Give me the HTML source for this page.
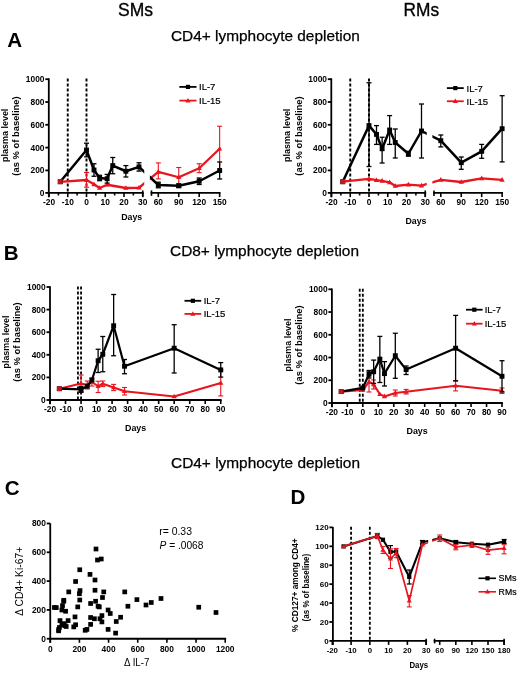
<!DOCTYPE html>
<html><head><meta charset="utf-8"><style>
html,body{margin:0;padding:0;background:#fff;}
body{width:520px;height:673px;overflow:hidden;}
svg{display:block;font-family:"Liberation Sans", sans-serif;will-change:transform;}
</style></head><body>
<svg width="520" height="673" viewBox="0 0 520 673">
<rect width="520" height="673" fill="#fff"/>
<text x="118" y="16.2" font-size="18.2" font-weight="normal" text-anchor="start" fill="#000" textLength="35" lengthAdjust="spacingAndGlyphs" stroke="#000" stroke-width="0.35">SMs</text>
<text x="403.5" y="16.2" font-size="18.2" font-weight="normal" text-anchor="start" fill="#000" textLength="35.6" lengthAdjust="spacingAndGlyphs" stroke="#000" stroke-width="0.35">RMs</text>
<text x="7.3" y="47.2" font-size="20.6" font-weight="bold" text-anchor="start" fill="#000">A</text>
<text x="3.8" y="260.2" font-size="20.6" font-weight="bold" text-anchor="start" fill="#000">B</text>
<text x="4.8" y="495" font-size="20.6" font-weight="bold" text-anchor="start" fill="#000">C</text>
<text x="290.6" y="503.7" font-size="20.6" font-weight="bold" text-anchor="start" fill="#000">D</text>
<text x="171" y="41.3" font-size="15.2" font-weight="normal" text-anchor="start" fill="#000" textLength="188.8" lengthAdjust="spacingAndGlyphs" stroke="#000" stroke-width="0.25">CD4+ lymphocyte depletion</text>
<text x="170" y="256.3" font-size="15.2" font-weight="normal" text-anchor="start" fill="#000" textLength="189" lengthAdjust="spacingAndGlyphs" stroke="#000" stroke-width="0.25">CD8+ lymphocyte depletion</text>
<text x="171" y="467.7" font-size="15.2" font-weight="normal" text-anchor="start" fill="#000" textLength="189" lengthAdjust="spacingAndGlyphs" stroke="#000" stroke-width="0.25">CD4+ lymphocyte depletion</text>
<clipPath id="clipA0"><rect x="38.8" y="60" width="105.45" height="140"/><rect x="149.89" y="60" width="79.75" height="140"/></clipPath>
<line x1="67.75" y1="78.5" x2="67.75" y2="193" stroke="#000" stroke-width="1.9" stroke-dasharray="3,2"/>
<line x1="86.5" y1="78.5" x2="86.5" y2="193" stroke="#000" stroke-width="1.9" stroke-dasharray="3,2"/>
<line x1="48.8" y1="78.3" x2="48.8" y2="192.9" stroke="#000" stroke-width="1.8"/>
<line x1="45.3" y1="170.4" x2="48.8" y2="170.4" stroke="#000" stroke-width="1.8"/>
<text x="44.5" y="173.42" font-size="8.4" font-weight="bold" text-anchor="end" fill="#000">200</text>
<line x1="45.3" y1="147.6" x2="48.8" y2="147.6" stroke="#000" stroke-width="1.8"/>
<text x="44.5" y="150.62" font-size="8.4" font-weight="bold" text-anchor="end" fill="#000">400</text>
<line x1="45.3" y1="124.8" x2="48.8" y2="124.8" stroke="#000" stroke-width="1.8"/>
<text x="44.5" y="127.82" font-size="8.4" font-weight="bold" text-anchor="end" fill="#000">600</text>
<line x1="45.3" y1="102" x2="48.8" y2="102" stroke="#000" stroke-width="1.8"/>
<text x="44.5" y="105.02" font-size="8.4" font-weight="bold" text-anchor="end" fill="#000">800</text>
<line x1="45.3" y1="79.2" x2="48.8" y2="79.2" stroke="#000" stroke-width="1.8"/>
<text x="44.5" y="82.22" font-size="8.4" font-weight="bold" text-anchor="end" fill="#000">1000</text>
<text x="44.5" y="195.92" font-size="8.4" font-weight="bold" text-anchor="end" fill="#000">0</text>
<line x1="45.3" y1="192.9" x2="48.8" y2="192.9" stroke="#000" stroke-width="1.8"/>
<line x1="48.8" y1="192.9" x2="48.8" y2="197.3" stroke="#000" stroke-width="1.8"/>
<line x1="47.9" y1="192.9" x2="143.65" y2="192.9" stroke="#000" stroke-width="1.8"/>
<line x1="150.59" y1="192.9" x2="220.54" y2="192.9" stroke="#000" stroke-width="1.8"/>
<line x1="49" y1="192.9" x2="49" y2="197.1" stroke="#000" stroke-width="1.6"/>
<text x="49" y="205.2" font-size="8.4" font-weight="bold" text-anchor="middle" fill="#000">-20</text>
<line x1="67.75" y1="192.9" x2="67.75" y2="197.1" stroke="#000" stroke-width="1.6"/>
<text x="67.75" y="205.2" font-size="8.4" font-weight="bold" text-anchor="middle" fill="#000">-10</text>
<line x1="86.5" y1="192.9" x2="86.5" y2="197.1" stroke="#000" stroke-width="1.6"/>
<text x="86.5" y="205.2" font-size="8.4" font-weight="bold" text-anchor="middle" fill="#000">0</text>
<line x1="105.25" y1="192.9" x2="105.25" y2="197.1" stroke="#000" stroke-width="1.6"/>
<text x="105.25" y="205.2" font-size="8.4" font-weight="bold" text-anchor="middle" fill="#000">10</text>
<line x1="124" y1="192.9" x2="124" y2="197.1" stroke="#000" stroke-width="1.6"/>
<text x="124" y="205.2" font-size="8.4" font-weight="bold" text-anchor="middle" fill="#000">20</text>
<line x1="142.75" y1="192.9" x2="142.75" y2="197.1" stroke="#000" stroke-width="1.6"/>
<text x="142.75" y="205.2" font-size="8.4" font-weight="bold" text-anchor="middle" fill="#000">30</text>
<line x1="58.38" y1="192.9" x2="58.38" y2="195.5" stroke="#000" stroke-width="1.6"/>
<line x1="77.12" y1="192.9" x2="77.12" y2="195.5" stroke="#000" stroke-width="1.6"/>
<line x1="95.88" y1="192.9" x2="95.88" y2="195.5" stroke="#000" stroke-width="1.6"/>
<line x1="114.62" y1="192.9" x2="114.62" y2="195.5" stroke="#000" stroke-width="1.6"/>
<line x1="133.38" y1="192.9" x2="133.38" y2="195.5" stroke="#000" stroke-width="1.6"/>
<line x1="142.75" y1="190.4" x2="142.75" y2="196.9" stroke="#000" stroke-width="1.6"/>
<line x1="151.49" y1="190.4" x2="151.49" y2="195.9" stroke="#000" stroke-width="1.6"/>
<line x1="158.3" y1="192.9" x2="158.3" y2="197.1" stroke="#000" stroke-width="1.6"/>
<text x="158.3" y="205.2" font-size="8.4" font-weight="bold" text-anchor="middle" fill="#000">60</text>
<line x1="178.75" y1="192.9" x2="178.75" y2="197.1" stroke="#000" stroke-width="1.6"/>
<text x="178.75" y="205.2" font-size="8.4" font-weight="bold" text-anchor="middle" fill="#000">90</text>
<line x1="199.19" y1="192.9" x2="199.19" y2="197.1" stroke="#000" stroke-width="1.6"/>
<text x="199.19" y="205.2" font-size="8.4" font-weight="bold" text-anchor="middle" fill="#000">120</text>
<line x1="219.64" y1="192.9" x2="219.64" y2="197.1" stroke="#000" stroke-width="1.6"/>
<text x="219.64" y="205.2" font-size="8.4" font-weight="bold" text-anchor="middle" fill="#000">150</text>
<text x="121.2" y="220.3" font-size="9.6" font-weight="bold" text-anchor="start" fill="#000" textLength="21" lengthAdjust="spacingAndGlyphs">Days</text>
<text transform="translate(7.5,135.3) rotate(-90)" x="0" y="0" font-size="8.6" font-weight="bold" text-anchor="middle" textLength="53.3" lengthAdjust="spacingAndGlyphs">plasma level</text>
<text transform="translate(19.2,136) rotate(-90)" x="0" y="0" font-size="8.6" font-weight="bold" text-anchor="middle" textLength="79.3" lengthAdjust="spacingAndGlyphs">(as % of baseline)</text>
<line x1="86.5" y1="172.5" x2="86.5" y2="187.2" stroke="#e8141e" stroke-width="1.1"/>
<line x1="84" y1="172.5" x2="89" y2="172.5" stroke="#e8141e" stroke-width="1.1"/>
<line x1="84" y1="187.2" x2="89" y2="187.2" stroke="#e8141e" stroke-width="1.1"/>
<line x1="158.3" y1="162.9" x2="158.3" y2="178.9" stroke="#e8141e" stroke-width="1.1"/>
<line x1="155.8" y1="162.9" x2="160.8" y2="162.9" stroke="#e8141e" stroke-width="1.1"/>
<line x1="155.8" y1="178.9" x2="160.8" y2="178.9" stroke="#e8141e" stroke-width="1.1"/>
<line x1="178.75" y1="167.5" x2="178.75" y2="187" stroke="#e8141e" stroke-width="1.1"/>
<line x1="176.25" y1="167.5" x2="181.25" y2="167.5" stroke="#e8141e" stroke-width="1.1"/>
<line x1="176.25" y1="187" x2="181.25" y2="187" stroke="#e8141e" stroke-width="1.1"/>
<line x1="199.19" y1="163.75" x2="199.19" y2="172.7" stroke="#e8141e" stroke-width="1.1"/>
<line x1="196.69" y1="163.75" x2="201.69" y2="163.75" stroke="#e8141e" stroke-width="1.1"/>
<line x1="196.69" y1="172.7" x2="201.69" y2="172.7" stroke="#e8141e" stroke-width="1.1"/>
<line x1="219.64" y1="126.25" x2="219.64" y2="171.25" stroke="#e8141e" stroke-width="1.1"/>
<line x1="217.14" y1="126.25" x2="222.14" y2="126.25" stroke="#e8141e" stroke-width="1.1"/>
<line x1="217.14" y1="171.25" x2="222.14" y2="171.25" stroke="#e8141e" stroke-width="1.1"/>
<polyline points="60.25,181.8 86.5,180 94,184.3 99.62,188 107.12,184.75 125.88,188 139,187.75 158.3,171.9 178.75,177.25 199.19,168.25 219.64,148.75" fill="none" stroke="#e8141e" stroke-width="2.3" stroke-linejoin="round" clip-path="url(#clipA0)"/>
<polygon points="60.25,178.99 57.65,183.67 62.85,183.67" fill="#e8141e"/>
<polygon points="86.5,177.19 83.9,181.87 89.1,181.87" fill="#e8141e"/>
<polygon points="94,181.49 91.4,186.17 96.6,186.17" fill="#e8141e"/>
<polygon points="99.62,185.19 97.03,189.87 102.22,189.87" fill="#e8141e"/>
<polygon points="107.12,181.94 104.53,186.62 109.72,186.62" fill="#e8141e"/>
<polygon points="125.88,185.19 123.28,189.87 128.47,189.87" fill="#e8141e"/>
<polygon points="139,184.94 136.4,189.62 141.6,189.62" fill="#e8141e"/>
<polygon points="158.3,169.09 155.7,173.77 160.9,173.77" fill="#e8141e"/>
<polygon points="178.75,174.44 176.15,179.12 181.34,179.12" fill="#e8141e"/>
<polygon points="199.19,165.44 196.59,170.12 201.79,170.12" fill="#e8141e"/>
<polygon points="219.64,145.94 217.04,150.62 222.24,150.62" fill="#e8141e"/>
<line x1="86.5" y1="143.2" x2="86.5" y2="156.8" stroke="#000" stroke-width="1.3"/>
<line x1="84" y1="143.2" x2="89" y2="143.2" stroke="#000" stroke-width="1.3"/>
<line x1="84" y1="156.8" x2="89" y2="156.8" stroke="#000" stroke-width="1.3"/>
<line x1="94" y1="163.75" x2="94" y2="176.25" stroke="#000" stroke-width="1.3"/>
<line x1="91.5" y1="163.75" x2="96.5" y2="163.75" stroke="#000" stroke-width="1.3"/>
<line x1="91.5" y1="176.25" x2="96.5" y2="176.25" stroke="#000" stroke-width="1.3"/>
<line x1="99.62" y1="175.3" x2="99.62" y2="180.7" stroke="#000" stroke-width="1.3"/>
<line x1="97.12" y1="175.3" x2="102.12" y2="175.3" stroke="#000" stroke-width="1.3"/>
<line x1="97.12" y1="180.7" x2="102.12" y2="180.7" stroke="#000" stroke-width="1.3"/>
<line x1="107.12" y1="174.4" x2="107.12" y2="183.1" stroke="#000" stroke-width="1.3"/>
<line x1="104.62" y1="174.4" x2="109.62" y2="174.4" stroke="#000" stroke-width="1.3"/>
<line x1="104.62" y1="183.1" x2="109.62" y2="183.1" stroke="#000" stroke-width="1.3"/>
<line x1="112.75" y1="157.5" x2="112.75" y2="173.75" stroke="#000" stroke-width="1.3"/>
<line x1="110.25" y1="157.5" x2="115.25" y2="157.5" stroke="#000" stroke-width="1.3"/>
<line x1="110.25" y1="173.75" x2="115.25" y2="173.75" stroke="#000" stroke-width="1.3"/>
<line x1="125.88" y1="165.6" x2="125.88" y2="177" stroke="#000" stroke-width="1.3"/>
<line x1="123.38" y1="165.6" x2="128.38" y2="165.6" stroke="#000" stroke-width="1.3"/>
<line x1="123.38" y1="177" x2="128.38" y2="177" stroke="#000" stroke-width="1.3"/>
<line x1="139" y1="162.75" x2="139" y2="171.1" stroke="#000" stroke-width="1.3"/>
<line x1="136.5" y1="162.75" x2="141.5" y2="162.75" stroke="#000" stroke-width="1.3"/>
<line x1="136.5" y1="171.1" x2="141.5" y2="171.1" stroke="#000" stroke-width="1.3"/>
<line x1="158.3" y1="182.2" x2="158.3" y2="187.8" stroke="#000" stroke-width="1.3"/>
<line x1="155.8" y1="182.2" x2="160.8" y2="182.2" stroke="#000" stroke-width="1.3"/>
<line x1="155.8" y1="187.8" x2="160.8" y2="187.8" stroke="#000" stroke-width="1.3"/>
<line x1="178.75" y1="184" x2="178.75" y2="187.5" stroke="#000" stroke-width="1.3"/>
<line x1="176.25" y1="184" x2="181.25" y2="184" stroke="#000" stroke-width="1.3"/>
<line x1="176.25" y1="187.5" x2="181.25" y2="187.5" stroke="#000" stroke-width="1.3"/>
<line x1="199.19" y1="178" x2="199.19" y2="184.5" stroke="#000" stroke-width="1.3"/>
<line x1="196.69" y1="178" x2="201.69" y2="178" stroke="#000" stroke-width="1.3"/>
<line x1="196.69" y1="184.5" x2="201.69" y2="184.5" stroke="#000" stroke-width="1.3"/>
<line x1="219.64" y1="162" x2="219.64" y2="179" stroke="#000" stroke-width="1.3"/>
<line x1="217.14" y1="162" x2="222.14" y2="162" stroke="#000" stroke-width="1.3"/>
<line x1="217.14" y1="179" x2="222.14" y2="179" stroke="#000" stroke-width="1.3"/>
<polyline points="60.25,181.8 86.5,150 94,170 99.62,178 107.12,178.75 112.75,165.6 125.88,171.25 139,166.9 158.3,185 178.75,185.75 199.19,181.25 219.64,170.5" fill="none" stroke="#000" stroke-width="2.5" stroke-linejoin="round" clip-path="url(#clipA0)"/>
<rect x="57.8" y="179.35" width="4.9" height="4.9" fill="#000"/>
<rect x="84.05" y="147.55" width="4.9" height="4.9" fill="#000"/>
<rect x="91.55" y="167.55" width="4.9" height="4.9" fill="#000"/>
<rect x="97.17" y="175.55" width="4.9" height="4.9" fill="#000"/>
<rect x="104.67" y="176.3" width="4.9" height="4.9" fill="#000"/>
<rect x="110.3" y="163.15" width="4.9" height="4.9" fill="#000"/>
<rect x="123.42" y="168.8" width="4.9" height="4.9" fill="#000"/>
<rect x="136.55" y="164.45" width="4.9" height="4.9" fill="#000"/>
<rect x="155.85" y="182.55" width="4.9" height="4.9" fill="#000"/>
<rect x="176.3" y="183.3" width="4.9" height="4.9" fill="#000"/>
<rect x="196.74" y="178.8" width="4.9" height="4.9" fill="#000"/>
<rect x="217.19" y="168.05" width="4.9" height="4.9" fill="#000"/>
<rect x="57.85" y="179.2" width="4.8" height="4.8" fill="#c8141c"/>
<line x1="179.4" y1="86.9" x2="196.5" y2="86.9" stroke="#000" stroke-width="1.8"/>
<rect x="185.85" y="84.8" width="4.2" height="4.2" fill="#000"/>
<text x="199" y="90.32" font-size="9.5" font-weight="normal" text-anchor="start" fill="#000" stroke="#000" stroke-width="0.2">IL-7</text>
<line x1="179.4" y1="100.6" x2="196.5" y2="100.6" stroke="#e8141e" stroke-width="1.8"/>
<polygon points="187.95,97.9 185.45,102.4 190.45,102.4" fill="#e8141e"/>
<text x="199" y="104.02" font-size="9.5" font-weight="normal" text-anchor="start" fill="#000" stroke="#000" stroke-width="0.2">IL-15</text>
<clipPath id="clipA282"><rect x="321.3" y="60" width="105.45" height="140"/><rect x="432.38" y="60" width="79.75" height="140"/></clipPath>
<line x1="350.25" y1="78.5" x2="350.25" y2="193" stroke="#000" stroke-width="1.9" stroke-dasharray="3,2"/>
<line x1="369" y1="78.5" x2="369" y2="193" stroke="#000" stroke-width="1.9" stroke-dasharray="3,2"/>
<line x1="331.3" y1="78.3" x2="331.3" y2="192.9" stroke="#000" stroke-width="1.8"/>
<line x1="327.8" y1="170.4" x2="331.3" y2="170.4" stroke="#000" stroke-width="1.8"/>
<text x="327" y="173.42" font-size="8.4" font-weight="bold" text-anchor="end" fill="#000">200</text>
<line x1="327.8" y1="147.6" x2="331.3" y2="147.6" stroke="#000" stroke-width="1.8"/>
<text x="327" y="150.62" font-size="8.4" font-weight="bold" text-anchor="end" fill="#000">400</text>
<line x1="327.8" y1="124.8" x2="331.3" y2="124.8" stroke="#000" stroke-width="1.8"/>
<text x="327" y="127.82" font-size="8.4" font-weight="bold" text-anchor="end" fill="#000">600</text>
<line x1="327.8" y1="102" x2="331.3" y2="102" stroke="#000" stroke-width="1.8"/>
<text x="327" y="105.02" font-size="8.4" font-weight="bold" text-anchor="end" fill="#000">800</text>
<line x1="327.8" y1="79.2" x2="331.3" y2="79.2" stroke="#000" stroke-width="1.8"/>
<text x="327" y="82.22" font-size="8.4" font-weight="bold" text-anchor="end" fill="#000">1000</text>
<text x="327" y="195.92" font-size="8.4" font-weight="bold" text-anchor="end" fill="#000">0</text>
<line x1="327.8" y1="192.9" x2="331.3" y2="192.9" stroke="#000" stroke-width="1.8"/>
<line x1="331.3" y1="192.9" x2="331.3" y2="197.3" stroke="#000" stroke-width="1.8"/>
<line x1="330.4" y1="192.9" x2="426.15" y2="192.9" stroke="#000" stroke-width="1.8"/>
<line x1="433.09" y1="192.9" x2="503.03" y2="192.9" stroke="#000" stroke-width="1.8"/>
<line x1="331.5" y1="192.9" x2="331.5" y2="197.1" stroke="#000" stroke-width="1.6"/>
<text x="331.5" y="205.2" font-size="8.4" font-weight="bold" text-anchor="middle" fill="#000">-20</text>
<line x1="350.25" y1="192.9" x2="350.25" y2="197.1" stroke="#000" stroke-width="1.6"/>
<text x="350.25" y="205.2" font-size="8.4" font-weight="bold" text-anchor="middle" fill="#000">-10</text>
<line x1="369" y1="192.9" x2="369" y2="197.1" stroke="#000" stroke-width="1.6"/>
<text x="369" y="205.2" font-size="8.4" font-weight="bold" text-anchor="middle" fill="#000">0</text>
<line x1="387.75" y1="192.9" x2="387.75" y2="197.1" stroke="#000" stroke-width="1.6"/>
<text x="387.75" y="205.2" font-size="8.4" font-weight="bold" text-anchor="middle" fill="#000">10</text>
<line x1="406.5" y1="192.9" x2="406.5" y2="197.1" stroke="#000" stroke-width="1.6"/>
<text x="406.5" y="205.2" font-size="8.4" font-weight="bold" text-anchor="middle" fill="#000">20</text>
<line x1="425.25" y1="192.9" x2="425.25" y2="197.1" stroke="#000" stroke-width="1.6"/>
<text x="425.25" y="205.2" font-size="8.4" font-weight="bold" text-anchor="middle" fill="#000">30</text>
<line x1="340.88" y1="192.9" x2="340.88" y2="195.5" stroke="#000" stroke-width="1.6"/>
<line x1="359.62" y1="192.9" x2="359.62" y2="195.5" stroke="#000" stroke-width="1.6"/>
<line x1="378.38" y1="192.9" x2="378.38" y2="195.5" stroke="#000" stroke-width="1.6"/>
<line x1="397.12" y1="192.9" x2="397.12" y2="195.5" stroke="#000" stroke-width="1.6"/>
<line x1="415.88" y1="192.9" x2="415.88" y2="195.5" stroke="#000" stroke-width="1.6"/>
<line x1="425.25" y1="190.4" x2="425.25" y2="196.9" stroke="#000" stroke-width="1.6"/>
<line x1="433.99" y1="190.4" x2="433.99" y2="195.9" stroke="#000" stroke-width="1.6"/>
<line x1="440.8" y1="192.9" x2="440.8" y2="197.1" stroke="#000" stroke-width="1.6"/>
<text x="440.8" y="205.2" font-size="8.4" font-weight="bold" text-anchor="middle" fill="#000">60</text>
<line x1="461.25" y1="192.9" x2="461.25" y2="197.1" stroke="#000" stroke-width="1.6"/>
<text x="461.25" y="205.2" font-size="8.4" font-weight="bold" text-anchor="middle" fill="#000">90</text>
<line x1="481.69" y1="192.9" x2="481.69" y2="197.1" stroke="#000" stroke-width="1.6"/>
<text x="481.69" y="205.2" font-size="8.4" font-weight="bold" text-anchor="middle" fill="#000">120</text>
<line x1="502.13" y1="192.9" x2="502.13" y2="197.1" stroke="#000" stroke-width="1.6"/>
<text x="502.13" y="205.2" font-size="8.4" font-weight="bold" text-anchor="middle" fill="#000">150</text>
<text x="405.5" y="223.9" font-size="9.6" font-weight="bold" text-anchor="start" fill="#000" textLength="21" lengthAdjust="spacingAndGlyphs">Days</text>
<text transform="translate(290,135.3) rotate(-90)" x="0" y="0" font-size="8.6" font-weight="bold" text-anchor="middle" textLength="53.3" lengthAdjust="spacingAndGlyphs">plasma level</text>
<text transform="translate(301.7,136) rotate(-90)" x="0" y="0" font-size="8.6" font-weight="bold" text-anchor="middle" textLength="79.3" lengthAdjust="spacingAndGlyphs">(as % of baseline)</text>
<polyline points="342.75,181.7 369,178.8 376.5,180.2 382.12,180.8 389.62,182.3 395.25,186 408.38,184.6 421.5,185.6 440.8,179.9 461.25,182 481.69,178.3 502.13,179.9" fill="none" stroke="#e8141e" stroke-width="2.3" stroke-linejoin="round" clip-path="url(#clipA282)"/>
<polygon points="342.75,178.89 340.15,183.57 345.35,183.57" fill="#e8141e"/>
<polygon points="369,175.99 366.4,180.67 371.6,180.67" fill="#e8141e"/>
<polygon points="376.5,177.39 373.9,182.07 379.1,182.07" fill="#e8141e"/>
<polygon points="382.12,177.99 379.52,182.67 384.73,182.67" fill="#e8141e"/>
<polygon points="389.62,179.49 387.02,184.17 392.23,184.17" fill="#e8141e"/>
<polygon points="395.25,183.19 392.65,187.87 397.85,187.87" fill="#e8141e"/>
<polygon points="408.38,181.79 405.77,186.47 410.98,186.47" fill="#e8141e"/>
<polygon points="421.5,182.79 418.9,187.47 424.1,187.47" fill="#e8141e"/>
<polygon points="440.8,177.09 438.2,181.77 443.4,181.77" fill="#e8141e"/>
<polygon points="461.25,179.19 458.64,183.87 463.85,183.87" fill="#e8141e"/>
<polygon points="481.69,175.49 479.09,180.17 484.29,180.17" fill="#e8141e"/>
<polygon points="502.13,177.09 499.53,181.77 504.74,181.77" fill="#e8141e"/>
<line x1="369" y1="82.75" x2="369" y2="166.5" stroke="#000" stroke-width="1.3"/>
<line x1="366.5" y1="82.75" x2="371.5" y2="82.75" stroke="#000" stroke-width="1.3"/>
<line x1="366.5" y1="166.5" x2="371.5" y2="166.5" stroke="#000" stroke-width="1.3"/>
<line x1="376.5" y1="125.6" x2="376.5" y2="144.4" stroke="#000" stroke-width="1.3"/>
<line x1="374" y1="125.6" x2="379" y2="125.6" stroke="#000" stroke-width="1.3"/>
<line x1="374" y1="144.4" x2="379" y2="144.4" stroke="#000" stroke-width="1.3"/>
<line x1="382.12" y1="137.25" x2="382.12" y2="163" stroke="#000" stroke-width="1.3"/>
<line x1="379.62" y1="137.25" x2="384.62" y2="137.25" stroke="#000" stroke-width="1.3"/>
<line x1="379.62" y1="163" x2="384.62" y2="163" stroke="#000" stroke-width="1.3"/>
<line x1="389.62" y1="115.6" x2="389.62" y2="144.4" stroke="#000" stroke-width="1.3"/>
<line x1="387.12" y1="115.6" x2="392.12" y2="115.6" stroke="#000" stroke-width="1.3"/>
<line x1="387.12" y1="144.4" x2="392.12" y2="144.4" stroke="#000" stroke-width="1.3"/>
<line x1="395.25" y1="129" x2="395.25" y2="158" stroke="#000" stroke-width="1.3"/>
<line x1="392.75" y1="129" x2="397.75" y2="129" stroke="#000" stroke-width="1.3"/>
<line x1="392.75" y1="158" x2="397.75" y2="158" stroke="#000" stroke-width="1.3"/>
<line x1="408.38" y1="151.3" x2="408.38" y2="156.2" stroke="#000" stroke-width="1.3"/>
<line x1="405.88" y1="151.3" x2="410.88" y2="151.3" stroke="#000" stroke-width="1.3"/>
<line x1="405.88" y1="156.2" x2="410.88" y2="156.2" stroke="#000" stroke-width="1.3"/>
<line x1="421.5" y1="104" x2="421.5" y2="158" stroke="#000" stroke-width="1.3"/>
<line x1="419" y1="104" x2="424" y2="104" stroke="#000" stroke-width="1.3"/>
<line x1="419" y1="158" x2="424" y2="158" stroke="#000" stroke-width="1.3"/>
<line x1="440.8" y1="135" x2="440.8" y2="146.9" stroke="#000" stroke-width="1.3"/>
<line x1="438.3" y1="135" x2="443.3" y2="135" stroke="#000" stroke-width="1.3"/>
<line x1="438.3" y1="146.9" x2="443.3" y2="146.9" stroke="#000" stroke-width="1.3"/>
<line x1="461.25" y1="157" x2="461.25" y2="169.3" stroke="#000" stroke-width="1.3"/>
<line x1="458.75" y1="157" x2="463.75" y2="157" stroke="#000" stroke-width="1.3"/>
<line x1="458.75" y1="169.3" x2="463.75" y2="169.3" stroke="#000" stroke-width="1.3"/>
<line x1="481.69" y1="144.4" x2="481.69" y2="158.3" stroke="#000" stroke-width="1.3"/>
<line x1="479.19" y1="144.4" x2="484.19" y2="144.4" stroke="#000" stroke-width="1.3"/>
<line x1="479.19" y1="158.3" x2="484.19" y2="158.3" stroke="#000" stroke-width="1.3"/>
<line x1="502.13" y1="95.7" x2="502.13" y2="161.9" stroke="#000" stroke-width="1.3"/>
<line x1="499.63" y1="95.7" x2="504.63" y2="95.7" stroke="#000" stroke-width="1.3"/>
<line x1="499.63" y1="161.9" x2="504.63" y2="161.9" stroke="#000" stroke-width="1.3"/>
<polyline points="342.75,181.8 369,125.6 376.5,134.4 382.12,148.75 389.62,130 395.25,142.5 408.38,153.75 421.5,131 440.8,140.7 461.25,162.7 481.69,151.3 502.13,128.7" fill="none" stroke="#000" stroke-width="2.5" stroke-linejoin="round" clip-path="url(#clipA282)"/>
<rect x="340.3" y="179.35" width="4.9" height="4.9" fill="#000"/>
<rect x="366.55" y="123.15" width="4.9" height="4.9" fill="#000"/>
<rect x="374.05" y="131.95" width="4.9" height="4.9" fill="#000"/>
<rect x="379.68" y="146.3" width="4.9" height="4.9" fill="#000"/>
<rect x="387.18" y="127.55" width="4.9" height="4.9" fill="#000"/>
<rect x="392.8" y="140.05" width="4.9" height="4.9" fill="#000"/>
<rect x="405.93" y="151.3" width="4.9" height="4.9" fill="#000"/>
<rect x="419.05" y="128.55" width="4.9" height="4.9" fill="#000"/>
<rect x="438.35" y="138.25" width="4.9" height="4.9" fill="#000"/>
<rect x="458.8" y="160.25" width="4.9" height="4.9" fill="#000"/>
<rect x="479.24" y="148.85" width="4.9" height="4.9" fill="#000"/>
<rect x="499.69" y="126.25" width="4.9" height="4.9" fill="#000"/>
<rect x="340.35" y="179.2" width="4.8" height="4.8" fill="#c8141c"/>
<line x1="446.9" y1="88.1" x2="463.75" y2="88.1" stroke="#000" stroke-width="1.8"/>
<rect x="453.22" y="86" width="4.2" height="4.2" fill="#000"/>
<text x="466.5" y="91.52" font-size="9.5" font-weight="normal" text-anchor="start" fill="#000" stroke="#000" stroke-width="0.2">IL-7</text>
<line x1="446.9" y1="101.25" x2="463.75" y2="101.25" stroke="#e8141e" stroke-width="1.8"/>
<polygon points="455.32,98.55 452.82,103.05 457.82,103.05" fill="#e8141e"/>
<text x="466.5" y="104.67" font-size="9.5" font-weight="normal" text-anchor="start" fill="#000" stroke="#000" stroke-width="0.2">IL-15</text>
<line x1="77.94" y1="286.5" x2="77.94" y2="400" stroke="#000" stroke-width="1.8" stroke-dasharray="3,2"/>
<line x1="81.05" y1="286.5" x2="81.05" y2="400" stroke="#000" stroke-width="1.8" stroke-dasharray="3,2"/>
<line x1="50" y1="286.3" x2="50" y2="400" stroke="#000" stroke-width="1.8"/>
<line x1="46.5" y1="400" x2="50" y2="400" stroke="#000" stroke-width="1.8"/>
<text x="45.7" y="403.02" font-size="8.4" font-weight="bold" text-anchor="end" fill="#000">0</text>
<line x1="46.5" y1="377.4" x2="50" y2="377.4" stroke="#000" stroke-width="1.8"/>
<text x="45.7" y="380.42" font-size="8.4" font-weight="bold" text-anchor="end" fill="#000">200</text>
<line x1="46.5" y1="354.8" x2="50" y2="354.8" stroke="#000" stroke-width="1.8"/>
<text x="45.7" y="357.82" font-size="8.4" font-weight="bold" text-anchor="end" fill="#000">400</text>
<line x1="46.5" y1="332.2" x2="50" y2="332.2" stroke="#000" stroke-width="1.8"/>
<text x="45.7" y="335.22" font-size="8.4" font-weight="bold" text-anchor="end" fill="#000">600</text>
<line x1="46.5" y1="309.6" x2="50" y2="309.6" stroke="#000" stroke-width="1.8"/>
<text x="45.7" y="312.62" font-size="8.4" font-weight="bold" text-anchor="end" fill="#000">800</text>
<line x1="46.5" y1="287" x2="50" y2="287" stroke="#000" stroke-width="1.8"/>
<text x="45.7" y="290.02" font-size="8.4" font-weight="bold" text-anchor="end" fill="#000">1000</text>
<line x1="50" y1="400" x2="50" y2="404.2" stroke="#000" stroke-width="1.8"/>
<line x1="49.1" y1="400" x2="221.65" y2="400" stroke="#000" stroke-width="1.8"/>
<line x1="50" y1="400" x2="50" y2="404" stroke="#000" stroke-width="1.6"/>
<text x="50" y="412.3" font-size="8.4" font-weight="bold" text-anchor="middle" fill="#000">-20</text>
<line x1="65.52" y1="400" x2="65.52" y2="404" stroke="#000" stroke-width="1.6"/>
<text x="65.52" y="412.3" font-size="8.4" font-weight="bold" text-anchor="middle" fill="#000">-10</text>
<line x1="81.05" y1="400" x2="81.05" y2="404" stroke="#000" stroke-width="1.6"/>
<text x="81.05" y="412.3" font-size="8.4" font-weight="bold" text-anchor="middle" fill="#000">0</text>
<line x1="96.57" y1="400" x2="96.57" y2="404" stroke="#000" stroke-width="1.6"/>
<text x="96.57" y="412.3" font-size="8.4" font-weight="bold" text-anchor="middle" fill="#000">10</text>
<line x1="112.09" y1="400" x2="112.09" y2="404" stroke="#000" stroke-width="1.6"/>
<text x="112.09" y="412.3" font-size="8.4" font-weight="bold" text-anchor="middle" fill="#000">20</text>
<line x1="127.61" y1="400" x2="127.61" y2="404" stroke="#000" stroke-width="1.6"/>
<text x="127.61" y="412.3" font-size="8.4" font-weight="bold" text-anchor="middle" fill="#000">30</text>
<line x1="143.14" y1="400" x2="143.14" y2="404" stroke="#000" stroke-width="1.6"/>
<text x="143.14" y="412.3" font-size="8.4" font-weight="bold" text-anchor="middle" fill="#000">40</text>
<line x1="158.66" y1="400" x2="158.66" y2="404" stroke="#000" stroke-width="1.6"/>
<text x="158.66" y="412.3" font-size="8.4" font-weight="bold" text-anchor="middle" fill="#000">50</text>
<line x1="174.18" y1="400" x2="174.18" y2="404" stroke="#000" stroke-width="1.6"/>
<text x="174.18" y="412.3" font-size="8.4" font-weight="bold" text-anchor="middle" fill="#000">60</text>
<line x1="189.7" y1="400" x2="189.7" y2="404" stroke="#000" stroke-width="1.6"/>
<text x="189.7" y="412.3" font-size="8.4" font-weight="bold" text-anchor="middle" fill="#000">70</text>
<line x1="205.23" y1="400" x2="205.23" y2="404" stroke="#000" stroke-width="1.6"/>
<text x="205.23" y="412.3" font-size="8.4" font-weight="bold" text-anchor="middle" fill="#000">80</text>
<line x1="220.75" y1="400" x2="220.75" y2="404" stroke="#000" stroke-width="1.6"/>
<text x="220.75" y="412.3" font-size="8.4" font-weight="bold" text-anchor="middle" fill="#000">90</text>
<text x="125" y="430.7" font-size="9.6" font-weight="bold" text-anchor="start" fill="#000" textLength="21.2" lengthAdjust="spacingAndGlyphs">Days</text>
<text transform="translate(8.6,342) rotate(-90)" x="0" y="0" font-size="8.6" font-weight="bold" text-anchor="middle" textLength="53" lengthAdjust="spacingAndGlyphs">plasma level</text>
<text transform="translate(20.2,342) rotate(-90)" x="0" y="0" font-size="8.6" font-weight="bold" text-anchor="middle" textLength="79.3" lengthAdjust="spacingAndGlyphs">(as % of baseline)</text>
<line x1="81.05" y1="375" x2="81.05" y2="392" stroke="#e8141e" stroke-width="1.1"/>
<line x1="78.55" y1="375" x2="83.55" y2="375" stroke="#e8141e" stroke-width="1.1"/>
<line x1="78.55" y1="392" x2="83.55" y2="392" stroke="#e8141e" stroke-width="1.1"/>
<line x1="87.25" y1="381" x2="87.25" y2="389" stroke="#e8141e" stroke-width="1.1"/>
<line x1="84.75" y1="381" x2="89.75" y2="381" stroke="#e8141e" stroke-width="1.1"/>
<line x1="84.75" y1="389" x2="89.75" y2="389" stroke="#e8141e" stroke-width="1.1"/>
<line x1="91.91" y1="378" x2="91.91" y2="386" stroke="#e8141e" stroke-width="1.1"/>
<line x1="89.41" y1="378" x2="94.41" y2="378" stroke="#e8141e" stroke-width="1.1"/>
<line x1="89.41" y1="386" x2="94.41" y2="386" stroke="#e8141e" stroke-width="1.1"/>
<line x1="98.12" y1="381.25" x2="98.12" y2="392.5" stroke="#e8141e" stroke-width="1.1"/>
<line x1="95.62" y1="381.25" x2="100.62" y2="381.25" stroke="#e8141e" stroke-width="1.1"/>
<line x1="95.62" y1="392.5" x2="100.62" y2="392.5" stroke="#e8141e" stroke-width="1.1"/>
<line x1="102.78" y1="381" x2="102.78" y2="386.5" stroke="#e8141e" stroke-width="1.1"/>
<line x1="100.28" y1="381" x2="105.28" y2="381" stroke="#e8141e" stroke-width="1.1"/>
<line x1="100.28" y1="386.5" x2="105.28" y2="386.5" stroke="#e8141e" stroke-width="1.1"/>
<line x1="113.64" y1="384.4" x2="113.64" y2="390.6" stroke="#e8141e" stroke-width="1.1"/>
<line x1="111.14" y1="384.4" x2="116.14" y2="384.4" stroke="#e8141e" stroke-width="1.1"/>
<line x1="111.14" y1="390.6" x2="116.14" y2="390.6" stroke="#e8141e" stroke-width="1.1"/>
<line x1="124.51" y1="387.5" x2="124.51" y2="395" stroke="#e8141e" stroke-width="1.1"/>
<line x1="122.01" y1="387.5" x2="127.01" y2="387.5" stroke="#e8141e" stroke-width="1.1"/>
<line x1="122.01" y1="395" x2="127.01" y2="395" stroke="#e8141e" stroke-width="1.1"/>
<line x1="220.75" y1="369.9" x2="220.75" y2="395.9" stroke="#e8141e" stroke-width="1.1"/>
<line x1="218.25" y1="369.9" x2="223.25" y2="369.9" stroke="#e8141e" stroke-width="1.1"/>
<line x1="218.25" y1="395.9" x2="223.25" y2="395.9" stroke="#e8141e" stroke-width="1.1"/>
<polyline points="59.31,388.7 81.05,383.5 87.25,385 91.91,382 98.12,386.25 102.78,383.75 113.64,387.5 124.51,391.25 174.18,396.5 220.75,383" fill="none" stroke="#e8141e" stroke-width="2.1" stroke-linejoin="round"/>
<polygon points="59.31,385.89 56.71,390.57 61.91,390.57" fill="#e8141e"/>
<polygon points="81.05,380.69 78.45,385.37 83.65,385.37" fill="#e8141e"/>
<polygon points="87.25,382.19 84.65,386.87 89.85,386.87" fill="#e8141e"/>
<polygon points="91.91,379.19 89.31,383.87 94.51,383.87" fill="#e8141e"/>
<polygon points="98.12,383.44 95.52,388.12 100.72,388.12" fill="#e8141e"/>
<polygon points="102.78,380.94 100.18,385.62 105.38,385.62" fill="#e8141e"/>
<polygon points="113.64,384.69 111.04,389.37 116.24,389.37" fill="#e8141e"/>
<polygon points="124.51,388.44 121.91,393.12 127.11,393.12" fill="#e8141e"/>
<polygon points="174.18,393.69 171.58,398.37 176.78,398.37" fill="#e8141e"/>
<polygon points="220.75,380.19 218.15,384.87 223.35,384.87" fill="#e8141e"/>
<line x1="81.05" y1="386.5" x2="81.05" y2="392.3" stroke="#000" stroke-width="1.3"/>
<line x1="78.55" y1="386.5" x2="83.55" y2="386.5" stroke="#000" stroke-width="1.3"/>
<line x1="78.55" y1="392.3" x2="83.55" y2="392.3" stroke="#000" stroke-width="1.3"/>
<line x1="98.12" y1="349.25" x2="98.12" y2="372.5" stroke="#000" stroke-width="1.3"/>
<line x1="95.62" y1="349.25" x2="100.62" y2="349.25" stroke="#000" stroke-width="1.3"/>
<line x1="95.62" y1="372.5" x2="100.62" y2="372.5" stroke="#000" stroke-width="1.3"/>
<line x1="102.78" y1="336.5" x2="102.78" y2="371.75" stroke="#000" stroke-width="1.3"/>
<line x1="100.28" y1="336.5" x2="105.28" y2="336.5" stroke="#000" stroke-width="1.3"/>
<line x1="100.28" y1="371.75" x2="105.28" y2="371.75" stroke="#000" stroke-width="1.3"/>
<line x1="113.64" y1="294.5" x2="113.64" y2="355.75" stroke="#000" stroke-width="1.3"/>
<line x1="111.14" y1="294.5" x2="116.14" y2="294.5" stroke="#000" stroke-width="1.3"/>
<line x1="111.14" y1="355.75" x2="116.14" y2="355.75" stroke="#000" stroke-width="1.3"/>
<line x1="124.51" y1="359.5" x2="124.51" y2="373.75" stroke="#000" stroke-width="1.3"/>
<line x1="122.01" y1="359.5" x2="127.01" y2="359.5" stroke="#000" stroke-width="1.3"/>
<line x1="122.01" y1="373.75" x2="127.01" y2="373.75" stroke="#000" stroke-width="1.3"/>
<line x1="174.18" y1="324.7" x2="174.18" y2="373" stroke="#000" stroke-width="1.3"/>
<line x1="171.68" y1="324.7" x2="176.68" y2="324.7" stroke="#000" stroke-width="1.3"/>
<line x1="171.68" y1="373" x2="176.68" y2="373" stroke="#000" stroke-width="1.3"/>
<line x1="220.75" y1="362.6" x2="220.75" y2="377.1" stroke="#000" stroke-width="1.3"/>
<line x1="218.25" y1="362.6" x2="223.25" y2="362.6" stroke="#000" stroke-width="1.3"/>
<line x1="218.25" y1="377.1" x2="223.25" y2="377.1" stroke="#000" stroke-width="1.3"/>
<polyline points="59.31,388.7 81.05,389.4 87.25,386.25 91.91,380 98.12,360.75 102.78,354.25 113.64,325.75 124.51,366.25 174.18,348.2 220.75,369.9" fill="none" stroke="#000" stroke-width="2.2" stroke-linejoin="round"/>
<rect x="56.86" y="386.25" width="4.9" height="4.9" fill="#000"/>
<rect x="78.6" y="386.95" width="4.9" height="4.9" fill="#000"/>
<rect x="84.8" y="383.8" width="4.9" height="4.9" fill="#000"/>
<rect x="89.46" y="377.55" width="4.9" height="4.9" fill="#000"/>
<rect x="95.67" y="358.3" width="4.9" height="4.9" fill="#000"/>
<rect x="100.33" y="351.8" width="4.9" height="4.9" fill="#000"/>
<rect x="111.19" y="323.3" width="4.9" height="4.9" fill="#000"/>
<rect x="122.06" y="363.8" width="4.9" height="4.9" fill="#000"/>
<rect x="171.73" y="345.75" width="4.9" height="4.9" fill="#000"/>
<rect x="218.3" y="367.45" width="4.9" height="4.9" fill="#000"/>
<rect x="56.91" y="386.3" width="4.8" height="4.8" fill="#c8141c"/>
<line x1="184.5" y1="300.8" x2="201.2" y2="300.8" stroke="#000" stroke-width="1.8"/>
<rect x="190.75" y="298.7" width="4.2" height="4.2" fill="#000"/>
<text x="203.7" y="304.22" font-size="9.5" font-weight="normal" text-anchor="start" fill="#000" stroke="#000" stroke-width="0.2">IL-7</text>
<line x1="184.5" y1="313.9" x2="201.2" y2="313.9" stroke="#e8141e" stroke-width="1.8"/>
<polygon points="192.85,311.2 190.35,315.7 195.35,315.7" fill="#e8141e"/>
<text x="203.7" y="317.32" font-size="9.5" font-weight="normal" text-anchor="start" fill="#000" stroke="#000" stroke-width="0.2">IL-15</text>
<line x1="359.73" y1="288.8" x2="359.73" y2="403" stroke="#000" stroke-width="1.8" stroke-dasharray="3,2"/>
<line x1="362.83" y1="288.8" x2="362.83" y2="403" stroke="#000" stroke-width="1.8" stroke-dasharray="3,2"/>
<line x1="331.9" y1="288.6" x2="331.9" y2="403" stroke="#000" stroke-width="1.8"/>
<line x1="328.4" y1="403" x2="331.9" y2="403" stroke="#000" stroke-width="1.8"/>
<text x="327.6" y="406.02" font-size="8.4" font-weight="bold" text-anchor="end" fill="#000">0</text>
<line x1="328.4" y1="380.26" x2="331.9" y2="380.26" stroke="#000" stroke-width="1.8"/>
<text x="327.6" y="383.28" font-size="8.4" font-weight="bold" text-anchor="end" fill="#000">200</text>
<line x1="328.4" y1="357.52" x2="331.9" y2="357.52" stroke="#000" stroke-width="1.8"/>
<text x="327.6" y="360.54" font-size="8.4" font-weight="bold" text-anchor="end" fill="#000">400</text>
<line x1="328.4" y1="334.78" x2="331.9" y2="334.78" stroke="#000" stroke-width="1.8"/>
<text x="327.6" y="337.8" font-size="8.4" font-weight="bold" text-anchor="end" fill="#000">600</text>
<line x1="328.4" y1="312.04" x2="331.9" y2="312.04" stroke="#000" stroke-width="1.8"/>
<text x="327.6" y="315.06" font-size="8.4" font-weight="bold" text-anchor="end" fill="#000">800</text>
<line x1="328.4" y1="289.3" x2="331.9" y2="289.3" stroke="#000" stroke-width="1.8"/>
<text x="327.6" y="292.32" font-size="8.4" font-weight="bold" text-anchor="end" fill="#000">1000</text>
<line x1="331.9" y1="403" x2="331.9" y2="407.2" stroke="#000" stroke-width="1.8"/>
<line x1="331" y1="403" x2="502.9" y2="403" stroke="#000" stroke-width="1.8"/>
<line x1="331.9" y1="403" x2="331.9" y2="407" stroke="#000" stroke-width="1.6"/>
<text x="331.9" y="415.3" font-size="8.4" font-weight="bold" text-anchor="middle" fill="#000">-20</text>
<line x1="347.36" y1="403" x2="347.36" y2="407" stroke="#000" stroke-width="1.6"/>
<text x="347.36" y="415.3" font-size="8.4" font-weight="bold" text-anchor="middle" fill="#000">-10</text>
<line x1="362.83" y1="403" x2="362.83" y2="407" stroke="#000" stroke-width="1.6"/>
<text x="362.83" y="415.3" font-size="8.4" font-weight="bold" text-anchor="middle" fill="#000">0</text>
<line x1="378.29" y1="403" x2="378.29" y2="407" stroke="#000" stroke-width="1.6"/>
<text x="378.29" y="415.3" font-size="8.4" font-weight="bold" text-anchor="middle" fill="#000">10</text>
<line x1="393.75" y1="403" x2="393.75" y2="407" stroke="#000" stroke-width="1.6"/>
<text x="393.75" y="415.3" font-size="8.4" font-weight="bold" text-anchor="middle" fill="#000">20</text>
<line x1="409.22" y1="403" x2="409.22" y2="407" stroke="#000" stroke-width="1.6"/>
<text x="409.22" y="415.3" font-size="8.4" font-weight="bold" text-anchor="middle" fill="#000">30</text>
<line x1="424.68" y1="403" x2="424.68" y2="407" stroke="#000" stroke-width="1.6"/>
<text x="424.68" y="415.3" font-size="8.4" font-weight="bold" text-anchor="middle" fill="#000">40</text>
<line x1="440.15" y1="403" x2="440.15" y2="407" stroke="#000" stroke-width="1.6"/>
<text x="440.15" y="415.3" font-size="8.4" font-weight="bold" text-anchor="middle" fill="#000">50</text>
<line x1="455.61" y1="403" x2="455.61" y2="407" stroke="#000" stroke-width="1.6"/>
<text x="455.61" y="415.3" font-size="8.4" font-weight="bold" text-anchor="middle" fill="#000">60</text>
<line x1="471.07" y1="403" x2="471.07" y2="407" stroke="#000" stroke-width="1.6"/>
<text x="471.07" y="415.3" font-size="8.4" font-weight="bold" text-anchor="middle" fill="#000">70</text>
<line x1="486.54" y1="403" x2="486.54" y2="407" stroke="#000" stroke-width="1.6"/>
<text x="486.54" y="415.3" font-size="8.4" font-weight="bold" text-anchor="middle" fill="#000">80</text>
<line x1="502" y1="403" x2="502" y2="407" stroke="#000" stroke-width="1.6"/>
<text x="502" y="415.3" font-size="8.4" font-weight="bold" text-anchor="middle" fill="#000">90</text>
<text x="406.5" y="434" font-size="9.6" font-weight="bold" text-anchor="start" fill="#000" textLength="21.2" lengthAdjust="spacingAndGlyphs">Days</text>
<text transform="translate(290.5,345) rotate(-90)" x="0" y="0" font-size="8.6" font-weight="bold" text-anchor="middle" textLength="53" lengthAdjust="spacingAndGlyphs">plasma level</text>
<text transform="translate(302.1,345) rotate(-90)" x="0" y="0" font-size="8.6" font-weight="bold" text-anchor="middle" textLength="79.3" lengthAdjust="spacingAndGlyphs">(as % of baseline)</text>
<line x1="369.01" y1="371.5" x2="369.01" y2="392" stroke="#e8141e" stroke-width="1.1"/>
<line x1="366.51" y1="371.5" x2="371.51" y2="371.5" stroke="#e8141e" stroke-width="1.1"/>
<line x1="366.51" y1="392" x2="371.51" y2="392" stroke="#e8141e" stroke-width="1.1"/>
<line x1="373.65" y1="380" x2="373.65" y2="389" stroke="#e8141e" stroke-width="1.1"/>
<line x1="371.15" y1="380" x2="376.15" y2="380" stroke="#e8141e" stroke-width="1.1"/>
<line x1="371.15" y1="389" x2="376.15" y2="389" stroke="#e8141e" stroke-width="1.1"/>
<line x1="395.3" y1="390" x2="395.3" y2="396" stroke="#e8141e" stroke-width="1.1"/>
<line x1="392.8" y1="390" x2="397.8" y2="390" stroke="#e8141e" stroke-width="1.1"/>
<line x1="392.8" y1="396" x2="397.8" y2="396" stroke="#e8141e" stroke-width="1.1"/>
<line x1="406.13" y1="389.4" x2="406.13" y2="394" stroke="#e8141e" stroke-width="1.1"/>
<line x1="403.63" y1="389.4" x2="408.63" y2="389.4" stroke="#e8141e" stroke-width="1.1"/>
<line x1="403.63" y1="394" x2="408.63" y2="394" stroke="#e8141e" stroke-width="1.1"/>
<line x1="455.61" y1="380.5" x2="455.61" y2="390.9" stroke="#e8141e" stroke-width="1.1"/>
<line x1="453.11" y1="380.5" x2="458.11" y2="380.5" stroke="#e8141e" stroke-width="1.1"/>
<line x1="453.11" y1="390.9" x2="458.11" y2="390.9" stroke="#e8141e" stroke-width="1.1"/>
<line x1="502" y1="388" x2="502" y2="393.5" stroke="#e8141e" stroke-width="1.1"/>
<line x1="499.5" y1="388" x2="504.5" y2="388" stroke="#e8141e" stroke-width="1.1"/>
<line x1="499.5" y1="393.5" x2="504.5" y2="393.5" stroke="#e8141e" stroke-width="1.1"/>
<polyline points="341.18,391.6 362.83,390 369.01,381.8 373.65,384.4 379.84,394.2 384.48,396.4 395.3,393 406.13,391.7 455.61,385.7 502,390.7" fill="none" stroke="#e8141e" stroke-width="2.1" stroke-linejoin="round"/>
<polygon points="341.18,388.79 338.58,393.47 343.78,393.47" fill="#e8141e"/>
<polygon points="362.83,387.19 360.23,391.87 365.43,391.87" fill="#e8141e"/>
<polygon points="369.01,378.99 366.41,383.67 371.61,383.67" fill="#e8141e"/>
<polygon points="373.65,381.59 371.05,386.27 376.25,386.27" fill="#e8141e"/>
<polygon points="379.84,391.39 377.24,396.07 382.44,396.07" fill="#e8141e"/>
<polygon points="384.48,393.59 381.88,398.27 387.08,398.27" fill="#e8141e"/>
<polygon points="395.3,390.19 392.7,394.87 397.9,394.87" fill="#e8141e"/>
<polygon points="406.13,388.89 403.53,393.57 408.73,393.57" fill="#e8141e"/>
<polygon points="455.61,382.89 453.01,387.57 458.21,387.57" fill="#e8141e"/>
<polygon points="502,387.89 499.4,392.57 504.6,392.57" fill="#e8141e"/>
<line x1="369.01" y1="370.5" x2="369.01" y2="378" stroke="#000" stroke-width="1.3"/>
<line x1="366.51" y1="370.5" x2="371.51" y2="370.5" stroke="#000" stroke-width="1.3"/>
<line x1="366.51" y1="378" x2="371.51" y2="378" stroke="#000" stroke-width="1.3"/>
<line x1="373.65" y1="360.1" x2="373.65" y2="383.4" stroke="#000" stroke-width="1.3"/>
<line x1="371.15" y1="360.1" x2="376.15" y2="360.1" stroke="#000" stroke-width="1.3"/>
<line x1="371.15" y1="383.4" x2="376.15" y2="383.4" stroke="#000" stroke-width="1.3"/>
<line x1="379.84" y1="336.4" x2="379.84" y2="382.5" stroke="#000" stroke-width="1.3"/>
<line x1="377.34" y1="336.4" x2="382.34" y2="336.4" stroke="#000" stroke-width="1.3"/>
<line x1="377.34" y1="382.5" x2="382.34" y2="382.5" stroke="#000" stroke-width="1.3"/>
<line x1="384.48" y1="361.65" x2="384.48" y2="386" stroke="#000" stroke-width="1.3"/>
<line x1="381.98" y1="361.65" x2="386.98" y2="361.65" stroke="#000" stroke-width="1.3"/>
<line x1="381.98" y1="386" x2="386.98" y2="386" stroke="#000" stroke-width="1.3"/>
<line x1="395.3" y1="333.25" x2="395.3" y2="378.3" stroke="#000" stroke-width="1.3"/>
<line x1="392.8" y1="333.25" x2="397.8" y2="333.25" stroke="#000" stroke-width="1.3"/>
<line x1="392.8" y1="378.3" x2="397.8" y2="378.3" stroke="#000" stroke-width="1.3"/>
<line x1="406.13" y1="366" x2="406.13" y2="374.5" stroke="#000" stroke-width="1.3"/>
<line x1="403.63" y1="366" x2="408.63" y2="366" stroke="#000" stroke-width="1.3"/>
<line x1="403.63" y1="374.5" x2="408.63" y2="374.5" stroke="#000" stroke-width="1.3"/>
<line x1="455.61" y1="315.4" x2="455.61" y2="381" stroke="#000" stroke-width="1.3"/>
<line x1="453.11" y1="315.4" x2="458.11" y2="315.4" stroke="#000" stroke-width="1.3"/>
<line x1="453.11" y1="381" x2="458.11" y2="381" stroke="#000" stroke-width="1.3"/>
<line x1="502" y1="360.7" x2="502" y2="391.9" stroke="#000" stroke-width="1.3"/>
<line x1="499.5" y1="360.7" x2="504.5" y2="360.7" stroke="#000" stroke-width="1.3"/>
<line x1="499.5" y1="391.9" x2="504.5" y2="391.9" stroke="#000" stroke-width="1.3"/>
<polyline points="341.18,391.6 362.83,387.9 369.01,374.3 373.65,371.75 379.84,359.1 384.48,373.6 395.3,355.7 406.13,369.6 455.61,348.2 502,376.3" fill="none" stroke="#000" stroke-width="2.2" stroke-linejoin="round"/>
<rect x="338.73" y="389.15" width="4.9" height="4.9" fill="#000"/>
<rect x="360.38" y="385.45" width="4.9" height="4.9" fill="#000"/>
<rect x="366.56" y="371.85" width="4.9" height="4.9" fill="#000"/>
<rect x="371.2" y="369.3" width="4.9" height="4.9" fill="#000"/>
<rect x="377.39" y="356.65" width="4.9" height="4.9" fill="#000"/>
<rect x="382.03" y="371.15" width="4.9" height="4.9" fill="#000"/>
<rect x="392.85" y="353.25" width="4.9" height="4.9" fill="#000"/>
<rect x="403.68" y="367.15" width="4.9" height="4.9" fill="#000"/>
<rect x="453.16" y="345.75" width="4.9" height="4.9" fill="#000"/>
<rect x="499.55" y="373.85" width="4.9" height="4.9" fill="#000"/>
<rect x="338.78" y="389.2" width="4.8" height="4.8" fill="#c8141c"/>
<line x1="466" y1="309.7" x2="482.6" y2="309.7" stroke="#000" stroke-width="1.8"/>
<rect x="472.2" y="307.6" width="4.2" height="4.2" fill="#000"/>
<text x="484.7" y="313.12" font-size="9.5" font-weight="normal" text-anchor="start" fill="#000" stroke="#000" stroke-width="0.2">IL-7</text>
<line x1="466" y1="323.7" x2="482.6" y2="323.7" stroke="#e8141e" stroke-width="1.8"/>
<polygon points="474.3,321 471.8,325.5 476.8,325.5" fill="#e8141e"/>
<text x="484.7" y="327.12" font-size="9.5" font-weight="normal" text-anchor="start" fill="#000" stroke="#000" stroke-width="0.2">IL-15</text>
<line x1="50.25" y1="523.3" x2="50.25" y2="638.75" stroke="#000" stroke-width="1.8"/>
<line x1="46.75" y1="638.75" x2="50.25" y2="638.75" stroke="#000" stroke-width="1.8"/>
<text x="45.95" y="641.77" font-size="8.4" font-weight="bold" text-anchor="end" fill="#000">0</text>
<line x1="46.75" y1="609.93" x2="50.25" y2="609.93" stroke="#000" stroke-width="1.8"/>
<text x="45.95" y="612.95" font-size="8.4" font-weight="bold" text-anchor="end" fill="#000">200</text>
<line x1="46.75" y1="581.11" x2="50.25" y2="581.11" stroke="#000" stroke-width="1.8"/>
<text x="45.95" y="584.13" font-size="8.4" font-weight="bold" text-anchor="end" fill="#000">400</text>
<line x1="46.75" y1="552.29" x2="50.25" y2="552.29" stroke="#000" stroke-width="1.8"/>
<text x="45.95" y="555.31" font-size="8.4" font-weight="bold" text-anchor="end" fill="#000">600</text>
<line x1="46.75" y1="523.47" x2="50.25" y2="523.47" stroke="#000" stroke-width="1.8"/>
<text x="45.95" y="526.49" font-size="8.4" font-weight="bold" text-anchor="end" fill="#000">800</text>
<line x1="50.25" y1="638.75" x2="50.25" y2="642.75" stroke="#000" stroke-width="1.8"/>
<line x1="49.35" y1="638.75" x2="226.11" y2="638.75" stroke="#000" stroke-width="1.8"/>
<line x1="50.25" y1="638.75" x2="50.25" y2="642.75" stroke="#000" stroke-width="1.6"/>
<text x="50.25" y="651.5" font-size="8.4" font-weight="bold" text-anchor="middle" fill="#000">0</text>
<line x1="79.41" y1="638.75" x2="79.41" y2="642.75" stroke="#000" stroke-width="1.6"/>
<text x="79.41" y="651.5" font-size="8.4" font-weight="bold" text-anchor="middle" fill="#000">200</text>
<line x1="108.57" y1="638.75" x2="108.57" y2="642.75" stroke="#000" stroke-width="1.6"/>
<text x="108.57" y="651.5" font-size="8.4" font-weight="bold" text-anchor="middle" fill="#000">400</text>
<line x1="137.73" y1="638.75" x2="137.73" y2="642.75" stroke="#000" stroke-width="1.6"/>
<text x="137.73" y="651.5" font-size="8.4" font-weight="bold" text-anchor="middle" fill="#000">600</text>
<line x1="166.89" y1="638.75" x2="166.89" y2="642.75" stroke="#000" stroke-width="1.6"/>
<text x="166.89" y="651.5" font-size="8.4" font-weight="bold" text-anchor="middle" fill="#000">800</text>
<line x1="196.05" y1="638.75" x2="196.05" y2="642.75" stroke="#000" stroke-width="1.6"/>
<text x="196.05" y="651.5" font-size="8.4" font-weight="bold" text-anchor="middle" fill="#000">1000</text>
<line x1="225.21" y1="638.75" x2="225.21" y2="642.75" stroke="#000" stroke-width="1.6"/>
<text x="225.21" y="651.5" font-size="8.4" font-weight="bold" text-anchor="middle" fill="#000">1200</text>
<rect x="66.4" y="589.55" width="4.7" height="4.7" fill="#000"/>
<rect x="77.65" y="588.25" width="4.7" height="4.7" fill="#000"/>
<rect x="77.05" y="591.4" width="4.7" height="4.7" fill="#000"/>
<rect x="92.65" y="587.9" width="4.7" height="4.7" fill="#000"/>
<rect x="101.4" y="589.55" width="4.7" height="4.7" fill="#000"/>
<rect x="100.15" y="595.15" width="4.7" height="4.7" fill="#000"/>
<rect x="77.4" y="597.65" width="4.7" height="4.7" fill="#000"/>
<rect x="61.4" y="598.9" width="4.7" height="4.7" fill="#000"/>
<rect x="88.25" y="601.15" width="4.7" height="4.7" fill="#000"/>
<rect x="93.25" y="598.9" width="4.7" height="4.7" fill="#000"/>
<rect x="95.75" y="603.9" width="4.7" height="4.7" fill="#000"/>
<rect x="52.05" y="605.15" width="4.7" height="4.7" fill="#000"/>
<rect x="75.4" y="604.55" width="4.7" height="4.7" fill="#000"/>
<rect x="60.15" y="603.25" width="4.7" height="4.7" fill="#000"/>
<rect x="59.55" y="607.65" width="4.7" height="4.7" fill="#000"/>
<rect x="63.25" y="608.9" width="4.7" height="4.7" fill="#000"/>
<rect x="105.75" y="607.65" width="4.7" height="4.7" fill="#000"/>
<rect x="72.65" y="614.55" width="4.7" height="4.7" fill="#000"/>
<rect x="88.25" y="615.15" width="4.7" height="4.7" fill="#000"/>
<rect x="92.05" y="616.4" width="4.7" height="4.7" fill="#000"/>
<rect x="99.55" y="613.25" width="4.7" height="4.7" fill="#000"/>
<rect x="97.65" y="616.4" width="4.7" height="4.7" fill="#000"/>
<rect x="99.55" y="619.55" width="4.7" height="4.7" fill="#000"/>
<rect x="57.65" y="618.25" width="4.7" height="4.7" fill="#000"/>
<rect x="65.75" y="618.25" width="4.7" height="4.7" fill="#000"/>
<rect x="59.55" y="622.65" width="4.7" height="4.7" fill="#000"/>
<rect x="62.65" y="623.25" width="4.7" height="4.7" fill="#000"/>
<rect x="73.25" y="622.4" width="4.7" height="4.7" fill="#000"/>
<rect x="71.4" y="624.55" width="4.7" height="4.7" fill="#000"/>
<rect x="88.25" y="622.05" width="4.7" height="4.7" fill="#000"/>
<rect x="56.4" y="627.05" width="4.7" height="4.7" fill="#000"/>
<rect x="57.05" y="625.15" width="4.7" height="4.7" fill="#000"/>
<rect x="84.55" y="627.05" width="4.7" height="4.7" fill="#000"/>
<rect x="105.75" y="627.05" width="4.7" height="4.7" fill="#000"/>
<rect x="93.65" y="546.65" width="4.7" height="4.7" fill="#000"/>
<rect x="95.15" y="557.65" width="4.7" height="4.7" fill="#000"/>
<rect x="98.9" y="556.65" width="4.7" height="4.7" fill="#000"/>
<rect x="77.4" y="567.4" width="4.7" height="4.7" fill="#000"/>
<rect x="87.65" y="572.05" width="4.7" height="4.7" fill="#000"/>
<rect x="73.25" y="579.15" width="4.7" height="4.7" fill="#000"/>
<rect x="92.65" y="577.65" width="4.7" height="4.7" fill="#000"/>
<rect x="122.4" y="589.55" width="4.7" height="4.7" fill="#000"/>
<rect x="134.55" y="597.25" width="4.7" height="4.7" fill="#000"/>
<rect x="125.55" y="603.9" width="4.7" height="4.7" fill="#000"/>
<rect x="143.65" y="602.65" width="4.7" height="4.7" fill="#000"/>
<rect x="148.9" y="600.15" width="4.7" height="4.7" fill="#000"/>
<rect x="158.65" y="596.15" width="4.7" height="4.7" fill="#000"/>
<rect x="107.9" y="611.15" width="4.7" height="4.7" fill="#000"/>
<rect x="118.25" y="614.9" width="4.7" height="4.7" fill="#000"/>
<rect x="113.9" y="619.15" width="4.7" height="4.7" fill="#000"/>
<rect x="113.25" y="630.75" width="4.7" height="4.7" fill="#000"/>
<rect x="196.4" y="604.9" width="4.7" height="4.7" fill="#000"/>
<rect x="213.65" y="610.15" width="4.7" height="4.7" fill="#000"/>
<rect x="53.95" y="605.25" width="4.7" height="4.7" fill="#000"/>
<rect x="56.25" y="628.45" width="4.7" height="4.7" fill="#000"/>
<rect x="61.25" y="621.25" width="4.7" height="4.7" fill="#000"/>
<rect x="63.85" y="624.15" width="4.7" height="4.7" fill="#000"/>
<rect x="61.45" y="597.95" width="4.7" height="4.7" fill="#000"/>
<rect x="96.95" y="604.55" width="4.7" height="4.7" fill="#000"/>
<rect x="82.85" y="627.95" width="4.7" height="4.7" fill="#000"/>
<text x="159.2" y="535.4" font-size="10.2" font-weight="normal" text-anchor="start" fill="#000" textLength="32.8" lengthAdjust="spacingAndGlyphs">r= 0.33</text>
<text x="159.5" y="548.5" font-size="10.2" textLength="44" lengthAdjust="spacingAndGlyphs"><tspan font-style="italic">P</tspan> = .0068</text>
<text transform="translate(23.2,581.2) rotate(-90)" x="0" y="0" font-size="10.4" font-weight="normal" text-anchor="middle" textLength="69" lengthAdjust="spacingAndGlyphs">&#916; CD4+ Ki-67+</text>
<text x="124" y="665.6" font-size="10" font-weight="normal" text-anchor="start" fill="#000" textLength="25.4" lengthAdjust="spacingAndGlyphs">&#916; IL-7</text>
<clipPath id="clipD"><rect x="320" y="500" width="108.15" height="150"/><rect x="432.26" y="500" width="100" height="150"/></clipPath>
<line x1="351.07" y1="526.7" x2="351.07" y2="640.9" stroke="#000" stroke-width="1.8" stroke-dasharray="3,2"/>
<line x1="369.84" y1="526.7" x2="369.84" y2="640.9" stroke="#000" stroke-width="1.8" stroke-dasharray="3,2"/>
<line x1="332.9" y1="527" x2="332.9" y2="640.9" stroke="#000" stroke-width="1.8"/>
<line x1="329.4" y1="640.9" x2="332.9" y2="640.9" stroke="#000" stroke-width="1.8"/>
<text x="328.6" y="643.78" font-size="8" font-weight="bold" text-anchor="end" fill="#000">0</text>
<line x1="329.4" y1="621.98" x2="332.9" y2="621.98" stroke="#000" stroke-width="1.8"/>
<text x="328.6" y="624.86" font-size="8" font-weight="bold" text-anchor="end" fill="#000">20</text>
<line x1="329.4" y1="603.07" x2="332.9" y2="603.07" stroke="#000" stroke-width="1.8"/>
<text x="328.6" y="605.95" font-size="8" font-weight="bold" text-anchor="end" fill="#000">40</text>
<line x1="329.4" y1="584.15" x2="332.9" y2="584.15" stroke="#000" stroke-width="1.8"/>
<text x="328.6" y="587.03" font-size="8" font-weight="bold" text-anchor="end" fill="#000">60</text>
<line x1="329.4" y1="565.24" x2="332.9" y2="565.24" stroke="#000" stroke-width="1.8"/>
<text x="328.6" y="568.12" font-size="8" font-weight="bold" text-anchor="end" fill="#000">80</text>
<line x1="329.4" y1="546.32" x2="332.9" y2="546.32" stroke="#000" stroke-width="1.8"/>
<text x="328.6" y="549.2" font-size="8" font-weight="bold" text-anchor="end" fill="#000">100</text>
<line x1="329.4" y1="527.4" x2="332.9" y2="527.4" stroke="#000" stroke-width="1.8"/>
<text x="328.6" y="530.28" font-size="8" font-weight="bold" text-anchor="end" fill="#000">120</text>
<line x1="332.9" y1="640.9" x2="332.9" y2="644.9" stroke="#000" stroke-width="1.8"/>
<line x1="332" y1="640.9" x2="427.05" y2="640.9" stroke="#000" stroke-width="1.8"/>
<line x1="433.7" y1="640.9" x2="505" y2="640.9" stroke="#000" stroke-width="1.8"/>
<line x1="426.15" y1="638.7" x2="426.15" y2="644.9" stroke="#000" stroke-width="1.6"/>
<line x1="434.6" y1="638.7" x2="434.6" y2="643.4" stroke="#000" stroke-width="1.6"/>
<line x1="332.3" y1="640.9" x2="332.3" y2="644.9" stroke="#000" stroke-width="1.6"/>
<text x="332.3" y="653.3" font-size="7.8" font-weight="bold" text-anchor="middle" fill="#000">-20</text>
<line x1="351.07" y1="640.9" x2="351.07" y2="644.9" stroke="#000" stroke-width="1.6"/>
<text x="351.07" y="653.3" font-size="7.8" font-weight="bold" text-anchor="middle" fill="#000">-10</text>
<line x1="369.84" y1="640.9" x2="369.84" y2="644.9" stroke="#000" stroke-width="1.6"/>
<text x="369.84" y="653.3" font-size="7.8" font-weight="bold" text-anchor="middle" fill="#000">0</text>
<line x1="388.61" y1="640.9" x2="388.61" y2="644.9" stroke="#000" stroke-width="1.6"/>
<text x="388.61" y="653.3" font-size="7.8" font-weight="bold" text-anchor="middle" fill="#000">10</text>
<line x1="407.38" y1="640.9" x2="407.38" y2="644.9" stroke="#000" stroke-width="1.6"/>
<text x="407.38" y="653.3" font-size="7.8" font-weight="bold" text-anchor="middle" fill="#000">20</text>
<line x1="426.15" y1="640.9" x2="426.15" y2="644.9" stroke="#000" stroke-width="1.6"/>
<text x="426.15" y="653.3" font-size="7.8" font-weight="bold" text-anchor="middle" fill="#000">30</text>
<line x1="439.7" y1="640.9" x2="439.7" y2="644.9" stroke="#000" stroke-width="1.6"/>
<text x="439.7" y="653.3" font-size="7.8" font-weight="bold" text-anchor="middle" fill="#000">60</text>
<line x1="455.8" y1="640.9" x2="455.8" y2="644.9" stroke="#000" stroke-width="1.6"/>
<text x="455.8" y="653.3" font-size="7.8" font-weight="bold" text-anchor="middle" fill="#000">90</text>
<line x1="471.9" y1="640.9" x2="471.9" y2="644.9" stroke="#000" stroke-width="1.6"/>
<text x="471.9" y="653.3" font-size="7.8" font-weight="bold" text-anchor="middle" fill="#000">120</text>
<line x1="488" y1="640.9" x2="488" y2="644.9" stroke="#000" stroke-width="1.6"/>
<text x="488" y="653.3" font-size="7.8" font-weight="bold" text-anchor="middle" fill="#000">150</text>
<line x1="504.1" y1="640.9" x2="504.1" y2="644.9" stroke="#000" stroke-width="1.6"/>
<text x="504.1" y="653.3" font-size="7.8" font-weight="bold" text-anchor="middle" fill="#000">180</text>
<line x1="504.1" y1="638.7" x2="504.1" y2="644.9" stroke="#000" stroke-width="1.6"/>
<text x="409.4" y="668.3" font-size="8.2" font-weight="bold" text-anchor="start" fill="#000" textLength="18.7" lengthAdjust="spacingAndGlyphs">Days</text>
<text transform="translate(298.4,585.2) rotate(-90)" x="0" y="0" font-size="8.4" font-weight="bold" text-anchor="middle" textLength="93.6" lengthAdjust="spacingAndGlyphs">% CD127+ among CD4+</text>
<text transform="translate(309,587.6) rotate(-90)" x="0" y="0" font-size="8.4" font-weight="bold" text-anchor="middle" textLength="67.6" lengthAdjust="spacingAndGlyphs">(as % of baseline)</text>
<line x1="377.35" y1="533.5" x2="377.35" y2="538.5" stroke="#000" stroke-width="1.2"/>
<line x1="374.85" y1="533.5" x2="379.85" y2="533.5" stroke="#000" stroke-width="1.2"/>
<line x1="374.85" y1="538.5" x2="379.85" y2="538.5" stroke="#000" stroke-width="1.2"/>
<line x1="390.49" y1="545.6" x2="390.49" y2="558" stroke="#000" stroke-width="1.2"/>
<line x1="387.99" y1="545.6" x2="392.99" y2="545.6" stroke="#000" stroke-width="1.2"/>
<line x1="387.99" y1="558" x2="392.99" y2="558" stroke="#000" stroke-width="1.2"/>
<line x1="409.26" y1="570" x2="409.26" y2="584" stroke="#000" stroke-width="1.2"/>
<line x1="406.76" y1="570" x2="411.76" y2="570" stroke="#000" stroke-width="1.2"/>
<line x1="406.76" y1="584" x2="411.76" y2="584" stroke="#000" stroke-width="1.2"/>
<line x1="422.4" y1="540.5" x2="422.4" y2="544" stroke="#000" stroke-width="1.2"/>
<line x1="419.9" y1="540.5" x2="424.9" y2="540.5" stroke="#000" stroke-width="1.2"/>
<line x1="419.9" y1="544" x2="424.9" y2="544" stroke="#000" stroke-width="1.2"/>
<line x1="455.8" y1="540.5" x2="455.8" y2="544" stroke="#000" stroke-width="1.2"/>
<line x1="453.3" y1="540.5" x2="458.3" y2="540.5" stroke="#000" stroke-width="1.2"/>
<line x1="453.3" y1="544" x2="458.3" y2="544" stroke="#000" stroke-width="1.2"/>
<line x1="504.1" y1="539.5" x2="504.1" y2="543.5" stroke="#000" stroke-width="1.2"/>
<line x1="501.6" y1="539.5" x2="506.6" y2="539.5" stroke="#000" stroke-width="1.2"/>
<line x1="501.6" y1="543.5" x2="506.6" y2="543.5" stroke="#000" stroke-width="1.2"/>
<polyline points="343.56,546.4 377.35,536 382.98,539.75 390.49,551.9 396.12,551.5 409.26,576.9 422.4,542.3 439.7,538.3 455.8,542.3 471.9,543.75 488,544.7 504.1,541.6" fill="none" stroke="#000" stroke-width="2.1" stroke-linejoin="round" clip-path="url(#clipD)"/>
<rect x="341.46" y="544.3" width="4.2" height="4.2" fill="#000"/>
<rect x="375.25" y="533.9" width="4.2" height="4.2" fill="#000"/>
<rect x="380.88" y="537.65" width="4.2" height="4.2" fill="#000"/>
<rect x="388.39" y="549.8" width="4.2" height="4.2" fill="#000"/>
<rect x="394.02" y="549.4" width="4.2" height="4.2" fill="#000"/>
<rect x="407.16" y="574.8" width="4.2" height="4.2" fill="#000"/>
<rect x="420.3" y="540.2" width="4.2" height="4.2" fill="#000"/>
<rect x="437.6" y="536.2" width="4.2" height="4.2" fill="#000"/>
<rect x="453.7" y="540.2" width="4.2" height="4.2" fill="#000"/>
<rect x="469.8" y="541.65" width="4.2" height="4.2" fill="#000"/>
<rect x="485.9" y="542.6" width="4.2" height="4.2" fill="#000"/>
<rect x="502" y="539.5" width="4.2" height="4.2" fill="#000"/>
<line x1="377.35" y1="533.8" x2="377.35" y2="538.5" stroke="#e8141e" stroke-width="1.1"/>
<line x1="374.85" y1="533.8" x2="379.85" y2="533.8" stroke="#e8141e" stroke-width="1.1"/>
<line x1="374.85" y1="538.5" x2="379.85" y2="538.5" stroke="#e8141e" stroke-width="1.1"/>
<line x1="382.98" y1="546.5" x2="382.98" y2="553.5" stroke="#e8141e" stroke-width="1.1"/>
<line x1="380.48" y1="546.5" x2="385.48" y2="546.5" stroke="#e8141e" stroke-width="1.1"/>
<line x1="380.48" y1="553.5" x2="385.48" y2="553.5" stroke="#e8141e" stroke-width="1.1"/>
<line x1="390.49" y1="549" x2="390.49" y2="568.5" stroke="#e8141e" stroke-width="1.1"/>
<line x1="387.99" y1="549" x2="392.99" y2="549" stroke="#e8141e" stroke-width="1.1"/>
<line x1="387.99" y1="568.5" x2="392.99" y2="568.5" stroke="#e8141e" stroke-width="1.1"/>
<line x1="396.12" y1="548.5" x2="396.12" y2="557.7" stroke="#e8141e" stroke-width="1.1"/>
<line x1="393.62" y1="548.5" x2="398.62" y2="548.5" stroke="#e8141e" stroke-width="1.1"/>
<line x1="393.62" y1="557.7" x2="398.62" y2="557.7" stroke="#e8141e" stroke-width="1.1"/>
<line x1="409.26" y1="595.6" x2="409.26" y2="606.9" stroke="#e8141e" stroke-width="1.1"/>
<line x1="406.76" y1="595.6" x2="411.76" y2="595.6" stroke="#e8141e" stroke-width="1.1"/>
<line x1="406.76" y1="606.9" x2="411.76" y2="606.9" stroke="#e8141e" stroke-width="1.1"/>
<line x1="439.7" y1="535" x2="439.7" y2="541.5" stroke="#e8141e" stroke-width="1.1"/>
<line x1="437.2" y1="535" x2="442.2" y2="535" stroke="#e8141e" stroke-width="1.1"/>
<line x1="437.2" y1="541.5" x2="442.2" y2="541.5" stroke="#e8141e" stroke-width="1.1"/>
<line x1="455.8" y1="544.7" x2="455.8" y2="549.8" stroke="#e8141e" stroke-width="1.1"/>
<line x1="453.3" y1="544.7" x2="458.3" y2="544.7" stroke="#e8141e" stroke-width="1.1"/>
<line x1="453.3" y1="549.8" x2="458.3" y2="549.8" stroke="#e8141e" stroke-width="1.1"/>
<line x1="471.9" y1="543" x2="471.9" y2="547.4" stroke="#e8141e" stroke-width="1.1"/>
<line x1="469.4" y1="543" x2="474.4" y2="543" stroke="#e8141e" stroke-width="1.1"/>
<line x1="469.4" y1="547.4" x2="474.4" y2="547.4" stroke="#e8141e" stroke-width="1.1"/>
<line x1="488" y1="547.3" x2="488" y2="554.3" stroke="#e8141e" stroke-width="1.1"/>
<line x1="485.5" y1="547.3" x2="490.5" y2="547.3" stroke="#e8141e" stroke-width="1.1"/>
<line x1="485.5" y1="554.3" x2="490.5" y2="554.3" stroke="#e8141e" stroke-width="1.1"/>
<line x1="504.1" y1="544.7" x2="504.1" y2="553.8" stroke="#e8141e" stroke-width="1.1"/>
<line x1="501.6" y1="544.7" x2="506.6" y2="544.7" stroke="#e8141e" stroke-width="1.1"/>
<line x1="501.6" y1="553.8" x2="506.6" y2="553.8" stroke="#e8141e" stroke-width="1.1"/>
<polyline points="343.56,546.4 377.35,536 382.98,550 390.49,558.75 396.12,553.1 409.26,600.6 422.4,544.7 439.7,538.3 455.8,547 471.9,545.2 488,550.1 504.1,548.3" fill="none" stroke="#e8141e" stroke-width="1.7" stroke-linejoin="round" clip-path="url(#clipD)"/>
<polygon points="343.56,543.7 341.06,548.2 346.06,548.2" fill="#e8141e"/>
<polygon points="377.35,533.3 374.85,537.8 379.85,537.8" fill="#e8141e"/>
<polygon points="382.98,547.3 380.48,551.8 385.48,551.8" fill="#e8141e"/>
<polygon points="390.49,556.05 387.99,560.55 392.99,560.55" fill="#e8141e"/>
<polygon points="396.12,550.4 393.62,554.9 398.62,554.9" fill="#e8141e"/>
<polygon points="409.26,597.9 406.76,602.4 411.76,602.4" fill="#e8141e"/>
<polygon points="422.4,542 419.9,546.5 424.9,546.5" fill="#e8141e"/>
<polygon points="439.7,535.6 437.2,540.1 442.2,540.1" fill="#e8141e"/>
<polygon points="455.8,544.3 453.3,548.8 458.3,548.8" fill="#e8141e"/>
<polygon points="471.9,542.5 469.4,547 474.4,547" fill="#e8141e"/>
<polygon points="488,547.4 485.5,551.9 490.5,551.9" fill="#e8141e"/>
<polygon points="504.1,545.6 501.6,550.1 506.6,550.1" fill="#e8141e"/>
<line x1="478.5" y1="578.3" x2="496" y2="578.3" stroke="#000" stroke-width="1.6"/>
<rect x="485.4" y="576.2" width="4.2" height="4.2" fill="#000"/>
<text x="498.6" y="581.3" font-size="8.8" font-weight="normal" text-anchor="start" fill="#000" textLength="17.9" lengthAdjust="spacingAndGlyphs" stroke="#000" stroke-width="0.2">SMs</text>
<line x1="478.5" y1="591.8" x2="496" y2="591.8" stroke="#e8141e" stroke-width="1.6"/>
<polygon points="487.5,589.1 485,593.6 490,593.6" fill="#e8141e"/>
<text x="498.6" y="594.8" font-size="8.8" font-weight="normal" text-anchor="start" fill="#000" textLength="17.9" lengthAdjust="spacingAndGlyphs" stroke="#000" stroke-width="0.2">RMs</text>
</svg>
</body></html>
